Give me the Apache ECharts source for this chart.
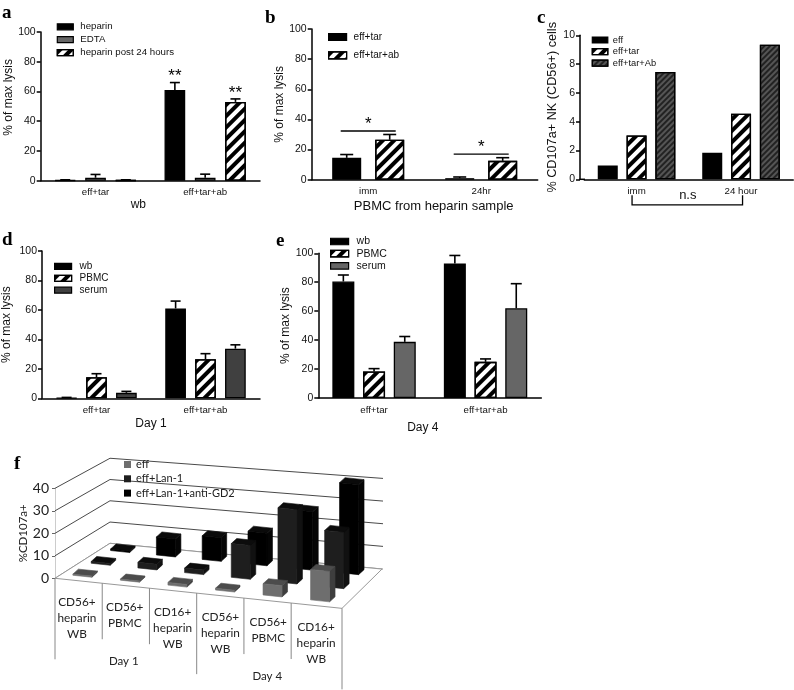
<!DOCTYPE html>
<html><head><meta charset="utf-8">
<style>html,body{margin:0;padding:0;background:#fff}#c{width:794px;height:690px}</style>
<script src="https://cdn.jsdelivr.net/npm/echarts@6/dist/echarts.min.js"></script>
</head><body><div id="c"></div>
<script>
// ---------- data ----------
const catsLysis = ['eff+tar', 'eff+tar+ab'];
const aHeparin = [0.3, 61], aHeparinTop = [0.6, 66];
const aEdta = [2, 2], aEdtaTop = [4.2, 4.4];
const aPost = [0.3, 53], aPostTop = [0.6, 55];
const catsB = ['imm', '24hr'];
const bTar = [14.5, 1], bTarTop = [16.7, 1.8];
const bAb = [26.5, 12.5], bAbTop = [30, 14.6];
const bBrackets = [32.3, 17];
const catsC = ['imm', '24 hour'];
const cEff = [0.95, 1.85], cTar = [3.05, 4.55], cAb = [7.45, 9.35];
const dWb = [0.3, 61], dWbTop = [0.6, 66];
const dPbmc = [14.3, 26.5], dPbmcTop = [16.7, 30.3];
const dSerum = [3.7, 33.7], dSerumTop = [4.7, 36.3];
const eWb = [80.5, 93], eWbTop = [85, 98.5];
const ePbmc = [18.3, 25], ePbmcTop = [20.3, 27];
const eSerum = [38.8, 62], eSerumTop = [42.5, 79];
const fCats = ['CD56+\nheparin\nWB', 'CD56+\nPBMC', 'CD16+\nheparin\nWB', 'CD56+\nheparin\nWB', 'CD56+\nPBMC', 'CD16+\nheparin\nWB'];
const fDays = ['Day 1', 'Day 4'];
const fEff = [0.5, 0.5, 1.2, 0.8, 5, 13.5];
const fLan = [0.8, 2.5, 2, 15, 33, 25];
const fGd2 = [0.7, 8, 10.5, 14.5, 26, 40];
const fTicks = [0, 10, 20, 30, 40];

// ---------- styles ----------
const SANS = '"Liberation Sans", Arial, sans-serif';
const hatch = (c, d) => ({color: c, symbol: 'rect', dashArrayX: [1, 0], dashArrayY: [d, d], rotation: -Math.PI / 4});
const WHITE_HATCH = {fill: '#fff', decal: hatch('#000', 3.6)};
const DARK_HATCH = {fill: '#555', decal: hatch('#222', 2)};
const barStyle = (b, w) => {
  const s = {color: b.fill, borderColor: '#000', borderWidth: w};
  if (b.decal) s.decal = b.decal;
  return s;
};

const opt = {animation: false, backgroundColor: '#fff', grid: [], xAxis: [], yAxis: [], series: [], legend: [], title: [], graphic: []};

function letter(t, x, y) {
  opt.title.push({text: t, left: x, top: y, padding: 0,
    textStyle: {fontFamily: '"Liberation Serif", serif', fontWeight: 'bold', fontSize: 19, color: '#000'}});
}

function panel(p) {
  const g = opt.grid.length;
  opt.grid.push({left: p.left, top: p.top, width: p.width, height: p.height});
  opt.xAxis.push({type: 'category', gridIndex: g, data: p.cats, name: p.xName, nameLocation: 'middle', nameGap: p.xGap,
    nameTextStyle: {fontFamily: SANS, fontSize: p.xNameSize || 12, color: '#111', padding: p.xPad || 0},
    axisLine: {lineStyle: {color: '#000', width: 1.5}},
    axisTick: {alignWithLabel: true, length: 4, lineStyle: {color: '#000', width: 1.2}},
    axisLabel: {fontFamily: SANS, fontSize: 9.7, color: '#111', margin: 7}});
  opt.yAxis.push({type: 'value', gridIndex: g, min: 0, max: p.max, interval: p.interval, offset: p.yOffset || 0,
    name: p.yName, nameLocation: 'middle', nameGap: p.yGap,
    nameTextStyle: {fontFamily: SANS, fontSize: p.yNameSize || 12, color: '#111', padding: p.yPad || 0},
    splitLine: {show: false},
    axisLine: {show: true, lineStyle: {color: '#000', width: 1.5}},
    axisTick: {show: true, length: 4, lineStyle: {color: '#000', width: 1.5}},
    axisLabel: {fontFamily: SANS, fontSize: 10.5, color: '#111', margin: 5}});
  const n = p.bars.length, step = p.barW + p.barSep;
  p.bars.forEach((b) => {
    opt.series.push({type: 'bar', name: b.name, xAxisIndex: g, yAxisIndex: g, data: b.values,
      barWidth: p.barW, barGap: (p.barSep / p.barW * 100) + '%', silent: true,
      itemStyle: barStyle(b, 1.3)});
  });
  const errRows = [];
  p.bars.forEach((b, i) => { if (b.tops) b.tops.forEach((t, c) => errRows.push([c, i, t, b.values[c]])); });
  if (errRows.length) {
    opt.series.push({type: 'custom', name: 'err' + g, xAxisIndex: g, yAxisIndex: g, data: errRows, silent: true,
      encode: {x: 0, y: 2}, clip: false, z: 1,
      renderItem(params, api) {
        const off = (api.value(1) - (n - 1) / 2) * step;
        const a = api.coord([api.value(0), api.value(3)]), t = api.coord([api.value(0), api.value(2)]);
        const x = a[0] + off, hw = p.capW / 2;
        const style = {stroke: '#000', lineWidth: 1.6, fill: null};
        return {type: 'group', children: [
          {type: 'line', shape: {x1: x, y1: a[1], x2: x, y2: t[1]}, style},
          {type: 'line', shape: {x1: x - hw, y1: t[1], x2: x + hw, y2: t[1]}, style}
        ]};
      }});
  }
  if (p.annot) p.annot(g, step, n);
  const L = p.legend;
  opt.legend.push({show: true, orient: 'vertical', left: L.x, top: L.y, itemWidth: L.w, itemHeight: L.h, itemGap: L.gap, padding: 0,
    selectedMode: false, icon: 'rect', align: 'left',
    textStyle: {fontFamily: SANS, fontSize: L.size, color: '#111', padding: [0, 0, 0, L.textGap - 5]},
    data: p.bars.map((b) => ({name: b.name, icon: 'rect', itemStyle: barStyle(b, 1.2)}))});
}

function starSeries(g, rows, step, n) {
  opt.series.push({type: 'custom', name: 'stars' + g, xAxisIndex: g, yAxisIndex: g, data: rows, encode: {x: 0, y: 2}, clip: false, silent: true,
    renderItem(params, api) {
      const off = (api.value(1) - (n - 1) / 2) * step;
      const t = api.coord([api.value(0), api.value(2)]);
      return {type: 'text', style: {text: '**', x: t[0] + off, y: t[1] - 6, align: 'center', verticalAlign: 'middle',
        fontFamily: SANS, fontSize: 17, fill: '#000'}};
    }});
}

// ---------- a ----------
letter('a', 2, 4);
panel({left: 40.7, top: 32, width: 219.3, height: 148.7, cats: catsLysis, max: 100, interval: 20,
  xName: 'wb', xGap: 18, xPad: [0, 24, 0, 0], yName: '% of max lysis', yGap: 25, yPad: [0, 0, 0, 18],
  barW: 20.7, barSep: 9.6, capW: 10,
  bars: [{name: 'heparin', values: aHeparin, tops: aHeparinTop, fill: '#000'},
         {name: 'EDTA', values: aEdta, tops: aEdtaTop, fill: '#666'},
         {name: 'heparin post 24 hours', values: aPost, tops: aPostTop, ...WHITE_HATCH}],
  legend: {x: 56.7, y: 21.8, w: 16, h: 6, gap: 2.9, size: 9.7, textGap: 7},
  annot(g, step, n) { starSeries(g, [[1, 0, 66], [1, 2, 55]], step, n); }});

// ---------- b ----------
letter('b', 265, 9);
panel({left: 311.7, top: 29, width: 226, height: 150.7, cats: catsB, max: 100, interval: 20,
  xName: 'PBMC from heparin sample', xGap: 20, xNameSize: 13, xPad: [0, 0, 0, 18], yName: '% of max lysis', yGap: 23,
  barW: 29, barSep: 14, capW: 13,
  bars: [{name: 'eff+tar', values: bTar, tops: bTarTop, fill: '#000'},
         {name: 'eff+tar+ab', values: bAb, tops: bAbTop, ...WHITE_HATCH}],
  legend: {x: 328, y: 32, w: 18, h: 7, gap: 8.4, size: 10, textGap: 7},
  annot(g) {
    opt.series.push({type: 'custom', name: 'brackets', xAxisIndex: g, yAxisIndex: g, data: bBrackets.map((v, i) => [i, v]),
      encode: {x: 0, y: 1}, clip: false, silent: true,
      renderItem(params, api) {
        const c = api.coord([api.value(0), api.value(1)]);
        return {type: 'group', children: [
          {type: 'line', shape: {x1: c[0] - 27.5, y1: c[1], x2: c[0] + 27.5, y2: c[1]}, style: {stroke: '#000', lineWidth: 1.3}},
          {type: 'text', style: {text: '*', x: c[0], y: c[1] - 7, align: 'center', verticalAlign: 'middle', fontFamily: SANS, fontSize: 17, fill: '#000'}}
        ]};
      }});
  }});

// ---------- c ----------
letter('c', 537, 9);
panel({left: 584.3, top: 35.3, width: 209, height: 144, cats: catsC, max: 10, interval: 2, yOffset: 4.3,
  yName: '% CD107a+ NK (CD56+) cells', yGap: 14, yNameSize: 12.7,
  barW: 20, barSep: 8.8,
  bars: [{name: 'eff', values: cEff, fill: '#000'},
         {name: 'eff+tar', values: cTar, ...WHITE_HATCH},
         {name: 'eff+tar+Ab', values: cAb, ...DARK_HATCH}],
  legend: {x: 591.7, y: 35.5, w: 15.5, h: 6, gap: 2.6, size: 9.3, textGap: 5},
  annot(g) {
    opt.series.push({type: 'custom', name: 'n.s', xAxisIndex: g, yAxisIndex: g, data: [[0, 1, 0]], encode: {x: 0, y: 2}, clip: false, silent: true,
      renderItem(params, api) {
        const a = api.coord([api.value(0), 0]), b = api.coord([api.value(1), 0]);
        const top = a[1] + 16, bot = a[1] + 25.5, s = {stroke: '#000', lineWidth: 1.3, fill: null};
        return {type: 'group', children: [
          {type: 'polyline', shape: {points: [[a[0] - 4.5, top], [a[0] - 4.5, bot], [b[0] + 1.5, bot], [b[0] + 1.5, top]]}, style: s},
          {type: 'text', style: {text: 'n.s', x: (a[0] + b[0]) / 2 - 1, y: a[1] + 16, align: 'center', verticalAlign: 'middle', fontFamily: SANS, fontSize: 13, fill: '#111'}}
        ]};
      }});
  }});
opt.graphic.push({type: 'line', shape: {x1: 579.3, y1: 179.3, x2: 585, y2: 179.3}, style: {stroke: '#000', lineWidth: 1.5}});

// ---------- d ----------
letter('d', 2, 231);
panel({left: 40.7, top: 251, width: 219.3, height: 147.3, cats: catsLysis, max: 100, interval: 20,
  xName: 'Day 1', xGap: 19, yName: '% of max lysis', yGap: 29,
  barW: 20.7, barSep: 9.2, capW: 10,
  bars: [{name: 'wb', values: dWb, tops: dWbTop, fill: '#000'},
         {name: 'PBMC', values: dPbmc, tops: dPbmcTop, ...WHITE_HATCH},
         {name: 'serum', values: dSerum, tops: dSerumTop, fill: '#404040'}],
  legend: {x: 54, y: 261.4, w: 17, h: 6, gap: 1.9, size: 10, textGap: 8}});

// ---------- e ----------
letter('e', 276, 232);
panel({left: 318.3, top: 253.3, width: 223, height: 144.7, cats: catsLysis, max: 100, interval: 20,
  xName: 'Day 4', xGap: 24, xPad: [0, 14, 0, 0], yName: '% of max lysis', yGap: 24,
  barW: 22, barSep: 8.7, capW: 11,
  bars: [{name: 'wb', values: eWb, tops: eWbTop, fill: '#000'},
         {name: 'PBMC', values: ePbmc, tops: ePbmcTop, ...WHITE_HATCH},
         {name: 'serum', values: eSerum, tops: eSerumTop, fill: '#666'}],
  legend: {x: 330, y: 236, w: 18, h: 6.5, gap: 1.2, size: 10.5, textGap: 8}});

// ---------- f (pseudo-3D drawn through the axes' own scales) ----------
letter('f', 14, 455);
const LATO = 'Lato, sans-serif';
const fG = opt.grid.length;
opt.grid.push({left: 55, top: 488.3, width: 287, height: 90});
opt.xAxis.push({type: 'category', gridIndex: fG, data: fCats.map((c, i) => i + ':' + c), show: false});
opt.yAxis.push({type: 'value', gridIndex: fG, min: 0, max: 40, interval: 10, name: '%CD107a+', nameLocation: 'middle', nameGap: 26,
  nameTextStyle: {fontFamily: LATO, fontSize: 11.5, color: '#222'},
  splitLine: {show: false}, axisLine: {show: true, lineStyle: {color: '#ccc', width: 1}},
  axisTick: {show: true, length: 3, lineStyle: {color: '#666'}},
  axisLabel: {fontFamily: LATO, fontSize: 14, color: '#222', margin: 6}});

const SLOPE = 0.1047;
const depthAt = (cs, x) => { const t = (x - cs.x) / cs.width; return [55 - 15 * t, -35 - 4.3 * t]; };
const frontY = (cs, y0, x) => y0 + SLOPE * (x - cs.x);
const fCommon = {xAxisIndex: fG, yAxisIndex: fG, clip: false, silent: true};

// walls
opt.series.push({...fCommon, type: 'custom', name: 'walls', data: fTicks.map((t) => [0, t]), encode: {x: 0, y: 1},
  renderItem(params, api) {
    const cs = params.coordSys, t = api.value(1), h = api.size([0, t])[1], y0 = cs.y + cs.height;
    const dl = depthAt(cs, cs.x), xr = cs.x + cs.width, dr = depthAt(cs, xr), yr = frontY(cs, y0, xr);
    return {type: 'polyline', shape: {points: [[cs.x, y0 - h], [cs.x + dl[0], y0 + dl[1] - h * 0.945], [xr + dr[0] + 1, yr + dr[1] - h * 1.007]]},
      style: {stroke: t === 0 ? '#888' : '#4a4a4a', lineWidth: 1, fill: null}};
  }});
// floor
opt.series.push({...fCommon, type: 'custom', name: 'floor', data: [[0, 0]], encode: {x: 0, y: 1},
  renderItem(params) {
    const cs = params.coordSys, y0 = cs.y + cs.height, xr = cs.x + cs.width;
    const dl = depthAt(cs, cs.x), dr = depthAt(cs, xr), yr = frontY(cs, y0, xr);
    return {type: 'polygon', shape: {points: [[cs.x, y0], [xr, yr], [xr + dr[0], yr + dr[1]], [cs.x + dl[0], y0 + dl[1]]]},
      style: {fill: '#fff', stroke: '#999', lineWidth: 1}};
  }});
// separators under the floor
opt.series.push({...fCommon, type: 'custom', name: 'separators', data: [0, 1, 2, 3, 4, 5, 6].map((i) => [i - 0.5, i]), encode: {x: 0},
  renderItem(params, api) {
    const cs = params.coordSys, y0 = cs.y + cs.height, band = api.size([1, 0])[0];
    const i = api.value(1), x = cs.x + band * i - (i % 6 ? i * 0.6 : 0), y = frontY(cs, y0, x);
    return {type: 'line', shape: {x1: x, y1: y, x2: x, y2: y + (i % 3 === 0 ? 81 : 56)}, style: {stroke: '#888', lineWidth: 1}};
  }});
// category labels
opt.series.push({...fCommon, type: 'custom', name: 'category labels', data: fCats.map((c, i) => [i, c]), encode: {x: 0},
  renderItem(params, api) {
    const cs = params.coordSys, y0 = cs.y + cs.height, i = params.dataIndex, x = api.coord([i, 0])[0] - 2;
    return {type: 'text', style: {text: fCats[i], x, y: frontY(cs, y0, x) + 14, align: 'center', verticalAlign: 'top',
      fontFamily: LATO, fontSize: 11.8, lineHeight: 16, fill: '#222'}};
  }});
// day labels
opt.series.push({...fCommon, type: 'custom', name: 'day labels', data: fDays.map((d, i) => [i * 3 + 1, d]), encode: {x: 0},
  renderItem(params, api) {
    const cs = params.coordSys, y0 = cs.y + cs.height, x = api.coord([api.value(0), 0])[0] - 3;
    return {type: 'text', style: {text: fDays[params.dataIndex], x, y: frontY(cs, y0, x) + 76, align: 'center', verticalAlign: 'middle',
      fontFamily: LATO, fontSize: 11.5, fill: '#222'}};
  }});
// 3D boxes, back row first
function boxes(name, values, v, front, side, top) {
  opt.series.push({...fCommon, type: 'custom', name, data: values.map((val, i) => [i, val]), encode: {x: 0, y: 1},
    itemStyle: {color: front},
    renderItem(params, api) {
      const cs = params.coordSys, y0 = cs.y + cs.height;
      const x = api.coord([api.value(0), 0])[0] - 3, h = api.size([0, api.value(1)])[1];
      const d = depthAt(cs, x), bx = x + d[0] * v, by = frontY(cs, y0, x) + d[1] * v;
      const W = 19, dx = 5.5, dy = -5, s = SLOPE * W / 2;
      const bl = [bx - W / 2, by - s], br = [bx + W / 2, by + s];
      const tl = [bl[0], bl[1] - h], tr = [br[0], br[1] - h];
      const up = (p) => [p[0] + dx, p[1] + dy];
      const face = (points, c) => ({type: 'polygon', shape: {points}, style: {fill: c, stroke: c, lineWidth: 0.6}});
      return {type: 'group', children: [
        face([br, up(br), up(tr), tr], side),
        face([tl, tr, up(tr), up(tl)], top),
        face([bl, br, tr, tl], front)
      ]};
    }});
}
boxes('eff+Lan-1+anti-GD2', fGd2, 0.82, '#000', '#050505', '#0a0a0a');
boxes('eff+Lan-1', fLan, 0.46, '#1e1e1e', '#111', '#0c0c0c');
boxes('eff', fEff, 0.12, '#6e6e6e', '#3e3e3e', '#4c4c4c');
opt.legend.push({show: true, orient: 'vertical', left: 124, top: 458, itemWidth: 7, itemHeight: 7, itemGap: 1.3, padding: 0,
  selectedMode: false, align: 'left', textStyle: {fontFamily: LATO, fontSize: 11, color: '#222', padding: [0, 0, 0, 0], lineHeight: 13},
  data: [{name: 'eff', icon: 'rect', itemStyle: {color: '#6e6e6e', borderWidth: 0}},
         {name: 'eff+Lan-1', icon: 'rect', itemStyle: {color: '#1e1e1e', borderWidth: 0}},
         {name: 'eff+Lan-1+anti-GD2', icon: 'rect', itemStyle: {color: '#000', borderWidth: 0}}]});

const chart = echarts.init(document.getElementById('c'), null, {renderer: 'canvas'});
chart.setOption(opt);
</script></body></html>
